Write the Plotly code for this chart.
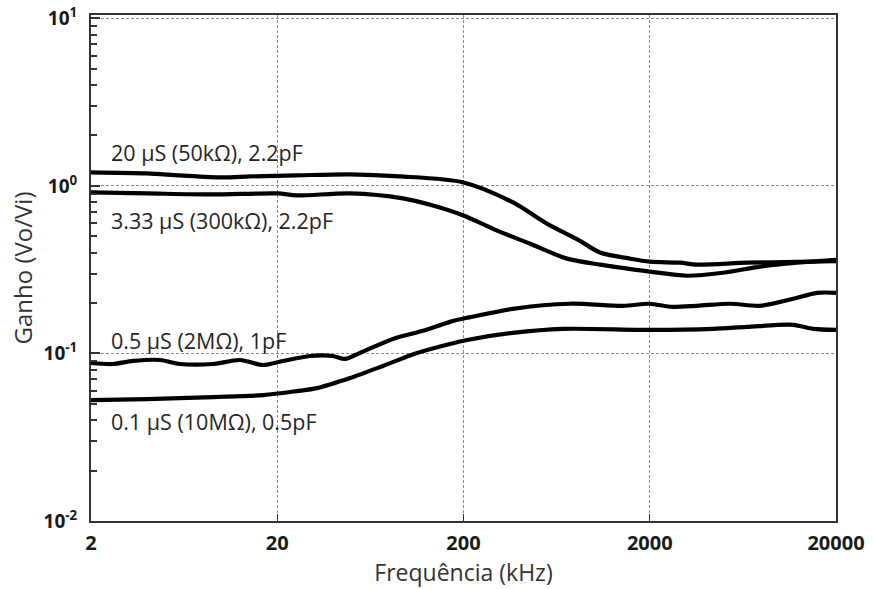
import math
import plotly.graph_objects as go

# Frequency response of the amplifier for four feedback settings (gain vs. frequency, log-log)
freq_20us = [2, 4.0, 6.0, 10.2, 14.3, 25.5, 49.2, 91, 200, 369, 561, 844, 1081, 1567, 2000, 2906, 3587, 6657, 12350, 20000]
gain_20us = [1.205, 1.188, 1.156, 1.124, 1.14, 1.156, 1.172, 1.14, 1.049, 0.797, 0.596, 0.47, 0.40, 0.368, 0.353, 0.348, 0.339, 0.348, 0.352, 0.355]

freq_333us = [2, 4.0, 9.0, 20, 25.5, 49.2, 94.6, 137, 200, 303, 455, 719, 1081, 1270, 2000, 3170, 4948, 7816, 12350, 20000]
gain_333us = [0.914, 0.902, 0.889, 0.902, 0.877, 0.902, 0.842, 0.764, 0.666, 0.541, 0.452, 0.368, 0.339, 0.330, 0.308, 0.291, 0.303, 0.330, 0.348, 0.362]

freq_05us = [2, 2.62, 3.36, 4.69, 6.0, 9.04, 12.6, 16.8, 21.5, 30, 39.8, 46.2, 55.6, 83.6, 121, 169, 209, 369, 746, 1437, 2000, 2569, 3587, 5394, 7816, 11750, 15810, 20000]
gain_05us = [0.0877, 0.0865, 0.0902, 0.0914, 0.0865, 0.0865, 0.0914, 0.0853, 0.0902, 0.0966, 0.0966, 0.0927, 0.1007, 0.1221, 0.1364, 0.1543, 0.1632, 0.1847, 0.198, 0.1925, 0.198, 0.19, 0.1925, 0.198, 0.1925, 0.212, 0.230, 0.230]

freq_01us = [2, 4.0, 9.04, 16.8, 25.5, 32.7, 49.2, 73.9, 112.6, 169, 209, 369, 684, 2000, 4371, 6657, 11750, 15050, 20000]
gain_01us = [0.0527, 0.0534, 0.0549, 0.0564, 0.0596, 0.0621, 0.0713, 0.0842, 0.1007, 0.114, 0.1204, 0.1327, 0.1402, 0.1382, 0.1402, 0.1441, 0.1482, 0.1402, 0.1382]

series = [
    (freq_20us, gain_20us),
    (freq_333us, gain_333us),
    (freq_05us, gain_05us),
    (freq_01us, gain_01us),
]

# Curve labels and the (frequency, gain) point where each label starts
labels = ["20 µS (50kΩ), 2.2pF", "3.33 µS (300kΩ), 2.2pF", "0.5 µS (2MΩ), 1pF", "0.1 µS (10MΩ), 0.5pF"]
label_freq = [2.5, 2.5, 2.5, 2.5]
label_gain = [1.587, 0.621, 0.1188, 0.0394]

x_ticks = [2, 20, 200, 2000, 20000]
y_ticks = [0.01, 0.1, 1, 10]
y_tick_text = ["10<sup>-2</sup>", "10<sup>-1</sup>", "10<sup>0</sup>", "10<sup>1</sup>"]
y_minor = [m * 10.0 ** e for e in (-2, -1, 0) for m in range(2, 10)]

fig = go.Figure()
for fx, gy in series:
    fig.add_trace(go.Scatter(
        x=fx, y=gy, mode="lines",
        line=dict(color="black", width=4.2, shape="spline", smoothing=0.8),
        showlegend=False, hoverinfo="skip",
    ))

# annotations on log axes take log10 coordinates
for text, fx, gy in zip(labels, label_freq, label_gain):
    fig.add_annotation(
        x=math.log10(fx), y=math.log10(gy), xref="x", yref="y", text=text, showarrow=False,
        xanchor="left", yanchor="middle",
        font=dict(family="Open Sans", size=21.5, color="#262626"),
    )

axis_line = dict(showline=True, linecolor="#333333", linewidth=2, mirror=True)
grid = dict(showgrid=True, gridcolor="#8c8c8c", gridwidth=1, griddash="3px,2px")

fig.update_xaxes(
    type="log", range=[0.30103, 4.30103], automargin=False,
    tickvals=x_ticks, ticktext=[f"<b>{v}</b>" for v in x_ticks],
    ticks="inside", ticklen=7, tickcolor="#333333", tickwidth=1,
    ticklabelstandoff=3,
    tickfont=dict(family="Open Sans", size=20, color="#1a1a1a"),
    title=dict(text="Frequência (kHz)", font=dict(family="Open Sans", size=23, color="#333333"), standoff=6),
    zeroline=False, **axis_line, **grid,
)
fig.update_yaxes(
    type="log", range=[-2.0, 1.02], automargin=False,
    tickvals=y_ticks, ticktext=[f"<b>{t}</b>" for t in y_tick_text],
    ticks="inside", ticklen=9, tickcolor="#333333", tickwidth=1.5,
    minor=dict(tickvals=y_minor, ticks="inside", ticklen=6, tickcolor="#333333", tickwidth=1.5, showgrid=False),
    ticklabelstandoff=8,
    tickfont=dict(family="Open Sans", size=19, color="#1a1a1a"),
    title=dict(text="Ganho (Vo/Vi)", font=dict(family="Open Sans", size=24, color="#333333"), standoff=4),
    zeroline=False, **axis_line, **grid,
)

fig.update_layout(
    width=874, height=589,
    margin=dict(l=91, r=38, t=15, b=68),
    paper_bgcolor="white", plot_bgcolor="white",
)

fig.write_html("out.html")
